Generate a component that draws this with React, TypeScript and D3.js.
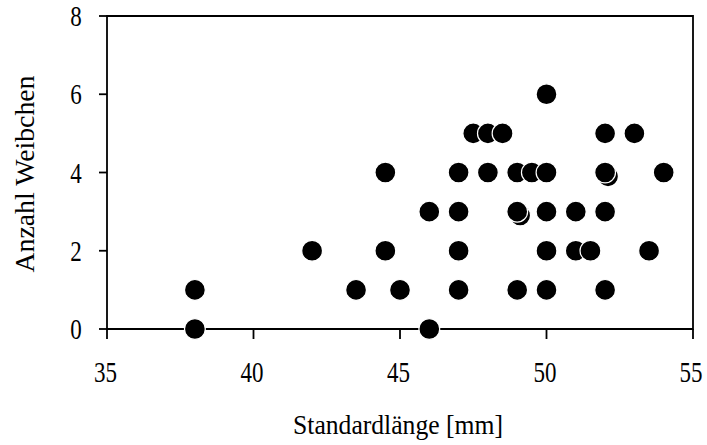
import React from "react";
import * as d3 from "d3";

// Standard length (mm) and number of females per fish
const lengthMm = [
  38, 38, 42, 43.5, 44.5, 44.5, 45, 46, 46,
  47, 47, 47, 47, 47.5, 48, 48, 48.5,
  49.1, 49, 49, 49, 49.5, 50, 50, 50, 50, 50,
  51, 51, 51.5, 52, 52, 52.1, 52, 52, 53, 53.5, 54,
];
const femaleCount = [
  0, 1, 2, 1, 4, 2, 1, 3, 0,
  1, 2, 3, 4, 5, 4, 5, 5,
  2.9, 3, 4, 1, 4, 6, 4, 3, 2, 1,
  3, 2, 2, 5, 3, 3.9, 4, 1, 5, 2, 4,
];

const xTicks = [35, 40, 45, 50, 55];
const yTicks = [0, 2, 4, 6, 8];

const xTitle = "Standardlänge [mm]";
const yTitle = "Anzahl Weibchen";

const W = 707;
const H = 445;
const FONT = "'Liberation Serif', 'Times New Roman', serif";
// narrow, tall digits
const DIGIT_W = 11.5;

export default function App() {
  const x = d3.scaleLinear().domain([35, 55]).range([107, 693]);
  const y = d3.scaleLinear().domain([0, 8]).range([329, 16]);
  const [x0, x1] = x.range();
  const [yb, yt] = y.range();
  const points = lengthMm.map((l, i) => ({ l, n: femaleCount[i] }));

  return (
    <svg
      width={W}
      height={H}
      style={{ position: "absolute", left: 0, top: 0, background: "#fff" }}
      fontFamily={FONT}
    >
      <rect x={0} y={0} width={W} height={H} fill="#fff" />
      {/* frame */}
      <path
        d={`M${x0},${yt}H${x1}V${yb}H${x0}Z`}
        fill="none"
        stroke="#000"
        strokeWidth={1.8}
      />
      {/* y ticks */}
      {yTicks.map((t) => (
        <g key={`y${t}`}>
          <line x1={x0 - 8} x2={x0} y1={y(t)} y2={y(t)} stroke="#000" strokeWidth={1.8} />
          <text
            x={76}
            y={y(t)}
            dy="0.35em"
            textAnchor="middle"
            fontSize={29}
            textLength={DIGIT_W * String(t).length}
            lengthAdjust="spacingAndGlyphs"
            fill="#000"
          >
            {t}
          </text>
        </g>
      ))}
      {/* x ticks */}
      {xTicks.map((t) => (
        <g key={`x${t}`}>
          <line x1={x(t)} x2={x(t)} y1={yb} y2={yb + 10} stroke="#000" strokeWidth={1.8} />
          <text
            x={Math.min(x(t) - 1.5, W - 16)}
            y={372}
            dy="0.35em"
            textAnchor="middle"
            fontSize={29}
            textLength={DIGIT_W * String(t).length}
            lengthAdjust="spacingAndGlyphs"
            fill="#000"
          >
            {t}
          </text>
        </g>
      ))}
      {/* markers */}
      {points.map((p, i) => (
        <circle
          key={i}
          cx={x(p.l)}
          cy={y(p.n)}
          r={10.4}
          fill="#000"
          stroke="#fff"
          strokeWidth={1.2}
        />
      ))}
      {/* axis titles */}
      <text
        x={398}
        y={434}
        textAnchor="middle"
        fontSize={27}
        textLength={210}
        lengthAdjust="spacingAndGlyphs"
        fill="#000"
      >
        {xTitle}
      </text>
      <text
        transform={`translate(34,174) rotate(-90)`}
        textAnchor="middle"
        fontSize={27}
        textLength={197}
        lengthAdjust="spacingAndGlyphs"
        fill="#000"
      >
        {yTitle}
      </text>
    </svg>
  );
}
